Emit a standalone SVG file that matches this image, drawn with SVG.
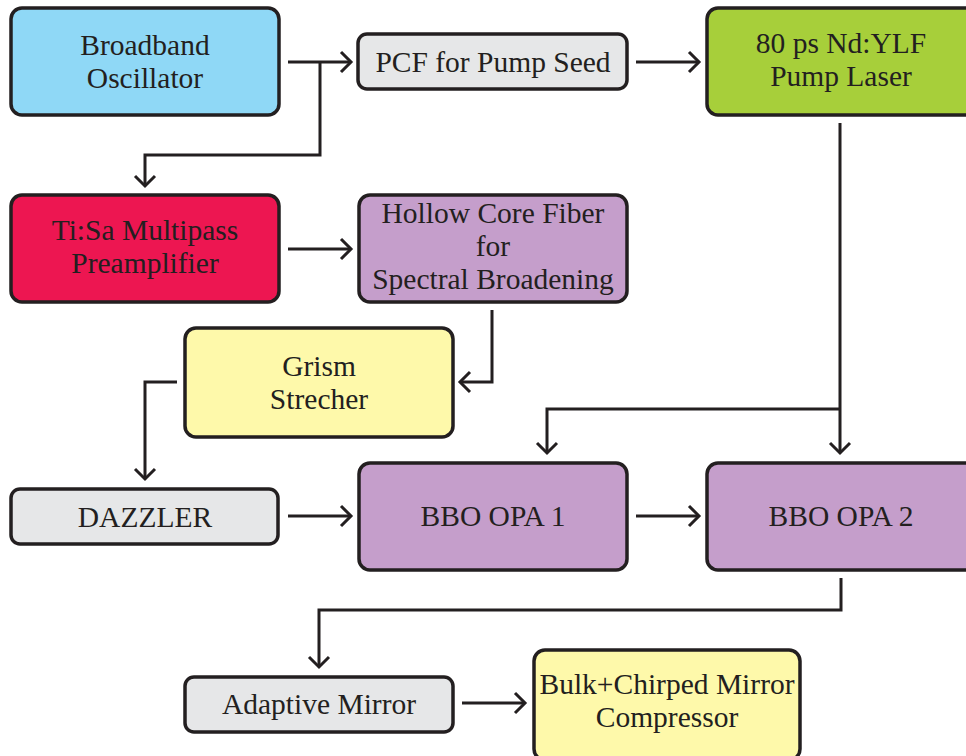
<svg xmlns="http://www.w3.org/2000/svg" width="966" height="756" viewBox="0 0 966 756">
<style>
.box{stroke:#231f20;stroke-width:3.5}
.t{font-family:'Liberation Serif','Times New Roman',Times,'DejaVu Serif',serif;font-size:29.5px;fill:#231f20;text-anchor:middle}
.c{fill:none;stroke:#231f20;stroke-width:3;stroke-linejoin:miter}
.a{fill:none;stroke:#231f20;stroke-width:3;stroke-linecap:butt;stroke-linejoin:miter}
</style>
<rect width="966" height="756" fill="#ffffff"/>
<g id="connectors">
<path class="c" d="M288 62H350"/><path class="a" d="M341 52L351 62L341 72"/>
<path class="c" d="M320 62V155H145V186"/><path class="a" d="M135 176L145 186L155 176"/>
<path class="c" d="M636 62H698"/><path class="a" d="M689 52L699 62L689 72"/>
<path class="c" d="M288 249H350"/><path class="a" d="M341 239L351 249L341 259"/>
<path class="c" d="M492 310V382H461"/><path class="a" d="M470 372L460 382L470 392"/>
<path class="c" d="M177 382H145V479"/><path class="a" d="M135 469L145 479L155 469"/>
<path class="c" d="M840 123V453"/><path class="a" d="M830 443L840 453L850 443"/>
<path class="c" d="M840 409H547V453"/><path class="a" d="M537 443L547 453L557 443"/>
<path class="c" d="M288 516H350"/><path class="a" d="M341 506L351 516L341 526"/>
<path class="c" d="M636 516H698"/><path class="a" d="M689 506L699 516L689 526"/>
<path class="c" d="M841 578V610H319V667"/><path class="a" d="M309 657L319 667L329 657"/>
<path class="c" d="M462 703H524"/><path class="a" d="M515 693L525 703L515 713"/>
</g>
<g id="oscillator"><rect class="box" x="11" y="8" width="268" height="107" rx="11" fill="#8fd8f6"/><text class="t" x="145" y="55">Broadband</text><text class="t" x="145" y="88">Oscillator</text></g>
<g id="pcf"><rect class="box" x="358" y="34" width="269" height="55" rx="9" fill="#e6e7e8"/><text class="t" x="493" y="72">PCF for Pump Seed</text></g>
<g id="ndylf"><rect class="box" x="707" y="8" width="270" height="107" rx="11" fill="#a7cf3a"/><text class="t" x="841" y="53">80 ps Nd:YLF</text><text class="t" x="841" y="86">Pump Laser</text></g>
<g id="tisa"><rect class="box" x="11" y="195" width="268" height="107" rx="11" fill="#ed1651"/><text class="t" x="145" y="240">Ti:Sa Multipass</text><text class="t" x="145" y="273">Preamplifier</text></g>
<g id="hollow"><rect class="box" x="359" y="195" width="268" height="107" rx="11" fill="#c59ecb"/><text class="t" x="493" y="223">Hollow Core Fiber</text><text class="t" x="493" y="256">for</text><text class="t" x="493" y="289">Spectral Broadening</text></g>
<g id="grism"><rect class="box" x="185" y="328" width="268" height="109" rx="11" fill="#fef9aa"/><text class="t" x="319" y="376">Grism</text><text class="t" x="319" y="409">Strecher</text></g>
<g id="dazzler"><rect class="box" x="11" y="489" width="267" height="55" rx="9" fill="#e6e7e8"/><text class="t" x="145" y="527">DAZZLER</text></g>
<g id="opa1"><rect class="box" x="359" y="463" width="268" height="107" rx="11" fill="#c59ecb"/><text class="t" x="493" y="526">BBO OPA 1</text></g>
<g id="opa2"><rect class="box" x="707" y="463" width="270" height="107" rx="11" fill="#c59ecb"/><text class="t" x="841" y="526">BBO OPA 2</text></g>
<g id="adaptive"><rect class="box" x="185" y="677" width="268" height="55" rx="9" fill="#e6e7e8"/><text class="t" x="319" y="714">Adaptive Mirror</text></g>
<g id="compressor"><rect class="box" x="534" y="650" width="266" height="110" rx="11" fill="#fef9aa"/><text class="t" x="667" y="694">Bulk+Chirped Mirror</text><text class="t" x="667" y="727">Compressor</text></g>
</svg>
